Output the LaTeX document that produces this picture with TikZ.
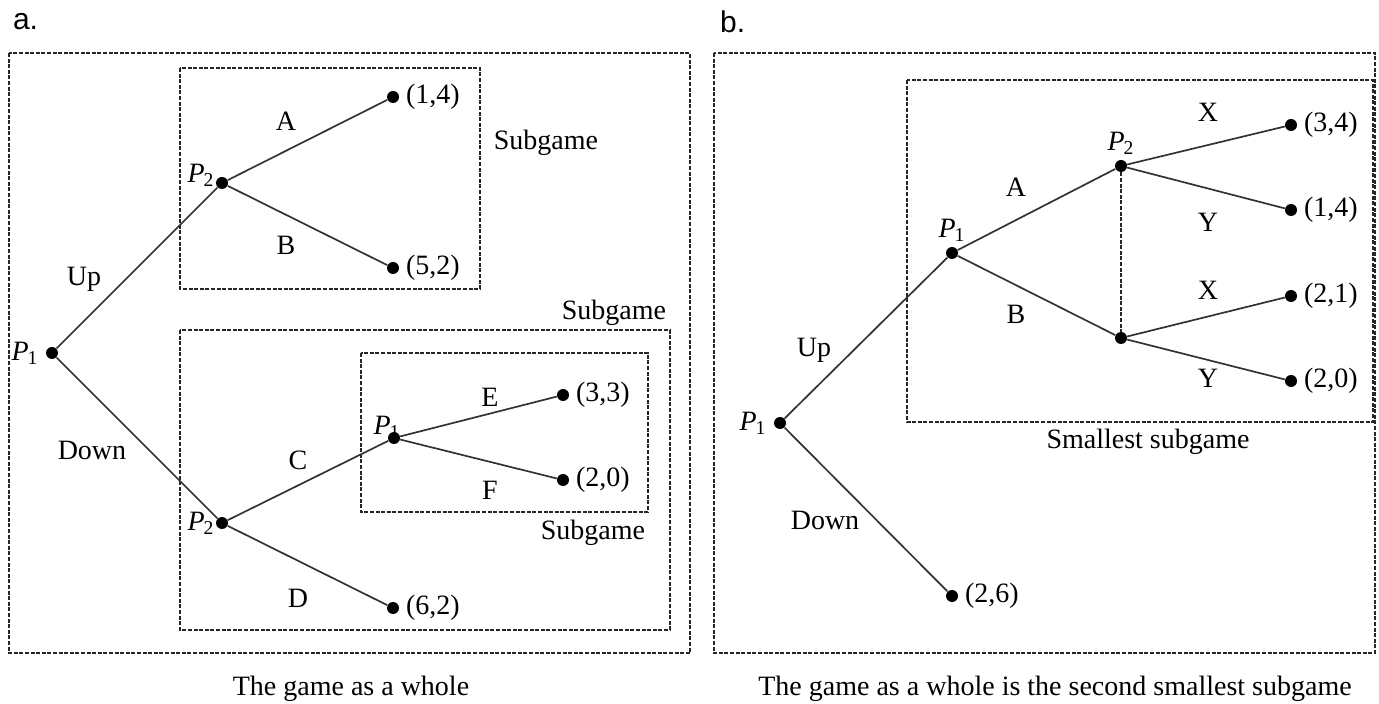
\documentclass[tikz,border=0pt]{standalone}
\usepackage{fontspec}
\setmainfont{Liberation Serif}
\newfontfamily\panelfont{Liberation Sans}
\usetikzlibrary{positioning}
\newcommand{\pl}[1]{\textit{P}\kern-0.5pt\textsubscript{#1}}

\begin{document}
\begin{tikzpicture}[
    x=0.5pt, y=-0.5pt, font=\fontsize{14}{16}\selectfont,
    dec/.style={circle, fill=black, inner sep=0pt, minimum size=6pt},
    move/.style={draw=black!80, line width=0.85pt},
    subbox/.style={draw=black!85, line width=0.6pt, dash pattern=on 2pt off 0.8pt},
    infoset/.style={draw=black!85, line width=0.6pt, dash pattern=on 2pt off 0.8pt},
    pay/.style={right=3pt},
    panel/.style={font=\panelfont\fontsize{15}{17}\selectfont, anchor=west}
]
\useasboundingbox (0,0) rectangle (1379,704);

% panel a: the game as a whole
\node[panel] (tagA) at (6,22) {a.};
\draw[subbox] (9,53) rectangle (690,653);
\draw[subbox] (180,68) rectangle (480,289);
\draw[subbox] (180,330) rectangle (670,630);
\draw[subbox] (361,353) rectangle (648,512);

\node[dec] (a0) at (52,353) {};
\node[dec] (a1) at (222,183) {};
\node[dec] (a2) at (222,523) {};
\node[dec] (a3) at (394,438) {};
\node[dec] (t14) at (393,97) {};
\node[dec] (t52) at (393,268) {};
\node[dec] (t33) at (563,395) {};
\node[dec] (t20) at (563,480) {};
\node[dec] (t62) at (393,608) {};

\node[left=0pt of a0] {\pl{1}};
\node[left=-3pt of a1, yshift=4pt] {\pl{2}};
\node[left=-3pt of a2] {\pl{2}};
\node[above left=-6pt and -9pt of a3] {\pl{1}};
\node[pay] at (t14) {(1,4)};
\node[pay] at (t52) {(5,2)};
\node[pay] at (t33) {(3,3)};
\node[pay] at (t20) {(2,0)};
\node[pay] at (t62) {(6,2)};

\foreach \a/\b in {a0/a1, a0/a2, a1/t14, a1/t52, a2/a3, a2/t62, a3/t33, a3/t20}{\draw[move] (\a)--(\b);}

\node at (84,279) {Up};
\node at (92,450) {Down};
\node at (286,121) {A};
\node at (286,245) {B};
\node at (298,460) {C};
\node at (298,598) {D};
\node at (490,397) {E};
\node at (490,490) {F};
\node at (546,143) {Subgame};
\node at (614,313) {Subgame};
\node at (593,533) {Subgame};
\node (capA) at (351,689) {The game as a whole};

% panel b: second smallest subgame
\node[panel] (tagB) at (713,22) {b.};
\draw[subbox] (714,53) rectangle (1375,653);
\draw[subbox] (907,80) rectangle (1373,422);

\node[dec] (b0) at (780,423) {};
\node[dec] (b1) at (952,253) {};
\node[dec] (b2) at (1121,166) {};
\node[dec] (b3) at (1121,338) {};
\node[dec] (u34) at (1291,125) {};
\node[dec] (u14) at (1291,210) {};
\node[dec] (u21) at (1291,296) {};
\node[dec] (u20) at (1291,381) {};
\node[dec] (u26) at (952,596) {};

\node[left=0pt of b0] {\pl{1}};
\node[above=-1pt of b1] {\pl{1}};
\node[above=-1pt of b2] {\pl{2}};
\node[pay] at (u34) {(3,4)};
\node[pay] at (u14) {(1,4)};
\node[pay] at (u21) {(2,1)};
\node[pay] at (u20) {(2,0)};
\node[pay] at (u26) {(2,6)};

\foreach \a/\b in {b0/b1, b0/u26, b1/b2, b1/b3, b2/u34, b2/u14, b3/u21, b3/u20}{\draw[move] (\a)--(\b);}
\draw[infoset] (b2)--(b3);

\node at (814,350) {Up};
\node at (825,520) {Down};
\node at (1016,187) {A};
\node at (1016,314) {B};
\node at (1208,112) {X};
\node at (1208,222) {Y};
\node at (1208,290) {X};
\node at (1208,378) {Y};
\node at (1148,442) {Smallest subgame};
\node (capB) at (1055,689) {The game as a whole is the second smallest subgame};
\end{tikzpicture}
\end{document}
